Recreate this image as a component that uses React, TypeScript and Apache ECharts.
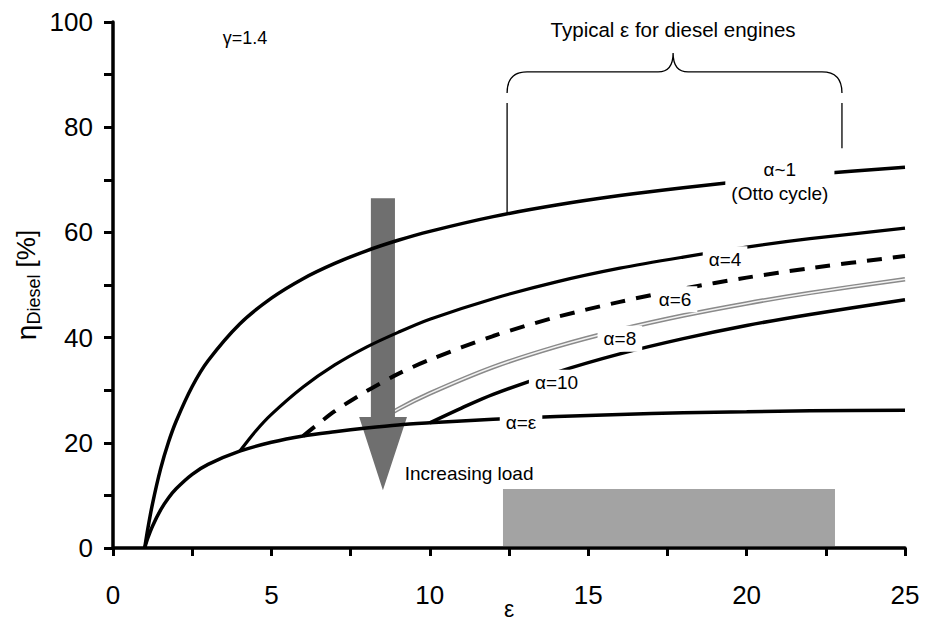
import { useEffect, useRef } from "react";
import * as echarts from "echarts";

// ---- data (compression ratio ε vs. efficiency η [%]) ----
const epsOtto = [1, 1.1, 1.25, 1.5, 1.75, 2, 2.5, 3, 4, 5, 6, 7, 8, 9, 10, 12, 14, 16, 18, 20, 22, 25];
const etaOtto = [0, 3.7, 8.5, 15.0, 20.1, 24.2, 30.7, 35.6, 42.6, 47.5, 51.2, 54.1, 56.5, 58.5, 60.2, 63.0, 65.2, 67.0, 68.5, 69.8, 71.0, 72.4];

const epsAlphaEps = [1, 1.1, 1.25, 1.5, 1.75, 2, 2.5, 3, 4, 5, 6, 7, 8, 9, 10, 12, 14, 16, 18, 20, 22, 25];
const etaAlphaEps = [0, 1.9, 4.2, 7.2, 9.5, 11.3, 14.0, 15.9, 18.4, 20.1, 21.3, 22.1, 22.8, 23.4, 23.8, 24.5, 25.0, 25.4, 25.7, 25.9, 26.1, 26.2];

const epsA4 = [4, 4.5, 5, 6, 7, 8, 9, 10, 12, 14, 16, 18, 20, 22, 25];
const etaA4 = [18.4, 22.2, 25.4, 30.6, 34.8, 38.2, 41.0, 43.5, 47.4, 50.6, 53.2, 55.3, 57.2, 58.8, 60.8];

const epsA6 = [6, 7, 8, 9, 10, 12, 14, 16, 18, 20, 22, 25];
const etaA6 = [21.3, 26.0, 29.8, 33.1, 35.8, 40.3, 43.9, 46.8, 49.3, 51.4, 53.2, 55.5];

const epsA8 = [8, 9, 10, 12, 14, 16, 18, 20, 22, 25];
const etaA8 = [22.8, 26.4, 29.4, 34.4, 38.3, 41.5, 44.2, 46.5, 48.5, 51.1];

const epsA10 = [10, 11, 12, 14, 16, 18, 20, 22, 25];
const etaA10 = [23.8, 26.6, 29.2, 33.4, 36.9, 39.8, 42.3, 44.4, 47.2];

// ---- annotation anchors (data units) ----
const curveLabels = [
  { text: "α~1\n(Otto cycle)", at: [21.05, 69.6] },
  { text: "α=4", at: [19.32, 54.9] },
  { text: "α=6", at: [17.74, 47.3] },
  { text: "α=8", at: [16.0, 39.8] },
  { text: "α=10", at: [14.0, 31.4] },
  { text: "α=ε", at: [12.88, 23.8] },
];
const freeTexts = [
  { text: "Typical ε for diesel engines", at: [17.68, 98.6], size: 20.5 },
  { text: "γ=1.4", at: [4.17, 96.9], size: 18 },
  { text: "Increasing load", at: [11.24, 14.2], size: 19 },
];
const BRACE = { left: 12.44, right: 23.01, mid: 17.68, arm: 86.5, bar: 90.5, tip: 94.1, lineTop: 84.6, leftBottom: 63.3, rightBottom: 76.0 };
const ARROW = { x: 8.52, shaftL: 8.14, shaftR: 8.9, headL: 7.77, headR: 9.28, top: 66.5, headBase: 24.9, tip: 11.0 };
const RANGE_BOX = { x0: 12.31, x1: 22.79, y0: 0.4, y1: 11.2 };

const FONT = '"Liberation Sans", Arial, Helvetica, sans-serif';

const pairs = (xs: number[], ys: number[]) => xs.map((x, i) => [x, ys[i]]);

function curve(name: string, xs: number[], ys: number[], lineStyle: any, z = 5, zlevel = 1) {
  return {
    type: "line",
    name,
    data: pairs(xs, ys),
    symbol: "none",
    showSymbol: false,
    smooth: 0.3,
    silent: true,
    z,
    zlevel,
    lineStyle: { color: "#000", width: 3.5, cap: "butt", ...lineStyle },
  };
}

export default function App() {
  const ref = useRef<HTMLDivElement>(null);
  useEffect(() => {
    const chart = echarts.init(ref.current!, null, { renderer: "svg" });
    const labelBase = {
      show: true,
      position: "inside",
      fontFamily: FONT,
      color: "#000",
      opacity: 1,
    };
    const option: any = {
      animation: false,
      backgroundColor: "#fff",
      grid: { left: 113, right: 38, top: 22, bottom: 75, containLabel: false, outerBoundsMode: "none" },
      xAxis: {
        type: "value",
        min: 0,
        max: 25,
        interval: 2.5,
        name: "ε",
        nameLocation: "middle",
        nameGap: 50,
        nameMoveOverlap: false,
        nameTextStyle: { fontSize: 23, lineHeight: 22, color: "#000", fontFamily: FONT },
        axisLine: { onZero: false, lineStyle: { color: "#000", width: 3.5 } },
        axisTick: { show: true, length: 8, lineStyle: { color: "#000", width: 3 } },
        axisLabel: {
          formatter: (v: number) => (v % 5 === 0 ? String(v) : ""),
          fontSize: 26,
          color: "#000",
          margin: 34,
          fontFamily: FONT,
        },
        splitLine: { show: false },
      },
      yAxis: {
        type: "value",
        min: 0,
        max: 100,
        interval: 10,
        name: "{eta|η}{sub|Diesel}{pct| [%]}",
        nameLocation: "middle",
        nameGap: 70,
        nameRotate: 90,
        nameMoveOverlap: false,
        nameTextStyle: {
          color: "#000",
          fontFamily: FONT,
          rich: {
            eta: { fontSize: 28, fontFamily: FONT, color: "#000", lineHeight: 34 },
            sub: { fontSize: 18, fontFamily: FONT, color: "#000", verticalAlign: "bottom", lineHeight: 20 },
            pct: { fontSize: 26, fontFamily: FONT, color: "#000", lineHeight: 34 },
          },
        },
        axisLine: { show: true, lineStyle: { color: "#000", width: 3.5 } },
        axisTick: { show: true, length: 9, lineStyle: { color: "#000", width: 3 } },
        axisLabel: {
          formatter: (v: number) => (v % 20 === 0 ? String(v) : ""),
          fontSize: 26,
          color: "#000",
          margin: 20,
          fontFamily: FONT,
        },
        splitLine: { show: false },
      },
      series: [
        {
          type: "custom",
          name: "annotations",
          silent: true,
          clip: false,
          z: 1,
          zlevel: 0,
          data: [[0, 0]],
          renderItem: (_params: any, api: any) => {
            const c = (x: number, y: number) => api.coord([x, y]);
            const a = ARROW;
            const pts = [
              c(a.shaftL, a.top),
              c(a.shaftR, a.top),
              c(a.shaftR, a.headBase),
              c(a.headR, a.headBase),
              c(a.x, a.tip),
              c(a.headL, a.headBase),
              c(a.shaftL, a.headBase),
            ];
            const b0 = c(RANGE_BOX.x0, RANGE_BOX.y1);
            const b1 = c(RANGE_BOX.x1, RANGE_BOX.y0);
            const bl = c(BRACE.left, BRACE.arm);
            const br = c(BRACE.right, BRACE.arm);
            const bh = c(BRACE.left, BRACE.bar)[1];
            const bt = c(BRACE.mid, BRACE.tip);
            const d =
              `M${bl[0]},${bl[1]} Q${bl[0]},${bh} ${bl[0] + 20},${bh} ` +
              `L${bt[0] - 15},${bh} Q${bt[0]},${bh} ${bt[0]},${bt[1]} ` +
              `Q${bt[0]},${bh} ${bt[0] + 15},${bh} ` +
              `L${br[0] - 20},${bh} Q${br[0]},${bh} ${br[0]},${br[1]}`;
            const vl0 = c(BRACE.left, BRACE.lineTop);
            const vl1 = c(BRACE.left, BRACE.leftBottom);
            const vr0 = c(BRACE.right, BRACE.lineTop);
            const vr1 = c(BRACE.right, BRACE.rightBottom);
            return {
              type: "group",
              children: [
                {
                  type: "rect",
                  shape: { x: b0[0], y: b0[1], width: b1[0] - b0[0], height: b1[1] - b0[1] },
                  style: { fill: "#a3a3a3" },
                },
                {
                  type: "polygon",
                  shape: { points: pts },
                  style: { fill: "#6f6f6f" },
                },
                {
                  type: "path",
                  shape: { pathData: d },
                  style: { fill: "none", stroke: "#000", lineWidth: 1.3 },
                },
                {
                  type: "line",
                  shape: { x1: vl0[0], y1: vl0[1], x2: vl1[0], y2: vl1[1] },
                  style: { stroke: "#000", lineWidth: 1.3 },
                },
                {
                  type: "line",
                  shape: { x1: vr0[0], y1: vr0[1], x2: vr1[0], y2: vr1[1] },
                  style: { stroke: "#000", lineWidth: 1.3 },
                },
              ],
            };
          },
        },
        curve("α=8 outline", epsA8, etaA8, { color: "#8a8a8a", width: 4.5 }, 0.4, 0),
        curve("α=8", epsA8, etaA8, { color: "#f2f2f2", width: 1.5 }, 0.7, 0),
        curve("α~1", epsOtto, etaOtto, {}),
        curve("α=ε", epsAlphaEps, etaAlphaEps, {}),
        curve("α=4", epsA4, etaA4, { width: 3.2 }),
        curve("α=6", epsA6, etaA6, { type: [15, 11], width: 4 }),
        curve("α=10", epsA10, etaA10, {}),
        {
          type: "scatter",
          name: "curve labels",
          silent: true,
          z: 20,
          zlevel: 2,
          symbolSize: 1,
          itemStyle: { color: "rgba(0,0,0,0)", opacity: 1 },
          data: curveLabels.map((l) => ({
            value: l.at,
            label: { formatter: l.text },
          })),
          label: {
            ...labelBase,
            fontSize: 19,
            lineHeight: 24,
            backgroundColor: "#ffffff",
            padding: [1, 6],
            align: "center",
          },
        },
        {
          type: "scatter",
          name: "notes",
          silent: true,
          z: 20,
          zlevel: 2,
          symbolSize: 1,
          itemStyle: { color: "rgba(0,0,0,0)", opacity: 1 },
          data: freeTexts.map((t) => ({
            value: t.at,
            label: { formatter: t.text, fontSize: t.size },
          })),
          label: { ...labelBase },
        },
      ],
    };
    chart.setOption(option);
    return () => chart.dispose();
  }, []);
  return (
    <div
      ref={ref}
      style={{ position: "fixed", left: 0, top: 0, width: 943, height: 623, background: "#fff" }}
    />
  );
}
